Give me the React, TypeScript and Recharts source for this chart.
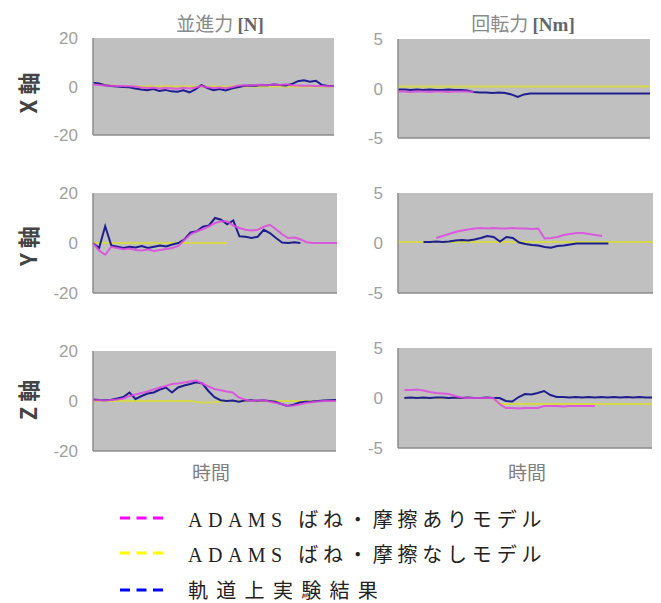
import React from "react";
import { LineChart, Line, XAxis, YAxis, CartesianGrid } from "recharts";

// time steps (x axis), same for all six panels
const steps = Array.from({ length: 41 }, (_, i) => i);

// X axis – translational force [N]
const fxMag = [0.8, 0.6, 0.4, 0.3, 0.2, 0.2, 0.1, 0, -0.4, -0.6, -0.5, -0.8, -0.6, -0.7, -0.9, -0.5, -0.8, -0.4, 0.2, -0.3, -0.6, -0.4, -0.7, -0.3, 0.3, 0.5, 0.4, 0.6, 0.7, 0.5, 0.8, 0.6, 0.9, 0.5, 0.4, 0.3, 0.3, 0.2, 0.2, 0.1, 0.1];
const fxYel = [1.2, 1.0, 0.7, 0.4, 0.2, 0.1, 0, 0, 0, 0, 0, 0, 0, 0, 0, 0, 0, 0, 0, 0, 0, 0, 0, 0, 0, 0, 0, 0, 0, 0, 0, 0, 0, 0, 0, 0, 0, 0, 0, 0, 0];
const fxBlu = [1.6, 1.2, 0.5, 0.2, 0, -0.2, -0.3, -0.8, -1.2, -1.5, -1.0, -1.8, -1.4, -2.0, -2.2, -1.6, -2.4, -1.2, 0.6, -0.6, -1.5, -1.0, -1.6, -0.8, -0.3, 0.2, 0.4, 0.3, 0.6, 0.5, 0.8, 0.6, 0.4, 1.0, 2.2, 2.6, 2.0, 2.4, 0.6, 0.2, 0.2];

// X axis – torque [Nm]
const mxMag = [-0.3, -0.3, -0.35, -0.3, -0.3, -0.35, -0.3, -0.3, -0.35, -0.3, -0.3, -0.3, -0.35, null, null, null, null, null, null, null, null, null, null, null, null, null, null, null, null, null, null, null, null, null, null, null, null, null, null, null, null];
const mxYel = [0.2, 0.2, 0.2, 0.2, 0.2, 0.2, 0.2, 0.2, 0.2, 0.2, 0.2, 0.2, 0.2, 0.2, 0.2, 0.2, 0.2, 0.2, 0.2, 0.2, 0.2, 0.2, 0.2, 0.2, 0.2, 0.2, 0.2, 0.2, 0.2, 0.2, 0.2, 0.2, 0.2, 0.2, 0.2, 0.2, 0.2, 0.2, 0.2, 0.2, 0.2];
const mxBlu = [-0.1, -0.1, -0.15, -0.1, -0.15, -0.1, -0.15, -0.15, -0.1, -0.15, -0.15, -0.2, -0.35, -0.4, -0.4, -0.45, -0.4, -0.45, -0.6, -0.85, -0.6, -0.5, -0.5, -0.5, -0.5, -0.5, -0.5, -0.5, -0.5, -0.5, -0.5, -0.5, -0.5, -0.5, -0.5, -0.5, -0.5, -0.5, -0.5, -0.5, -0.5];

// Y axis – translational force [N]
const fyMag = [0, -3, -4.7, -1.5, -2, -2.5, -2.2, -2.8, -3, -2.6, -3.2, -2.8, -2.4, -2, -1.2, 1.3, 3.5, 4.7, 5.5, 6.7, 8.0, 8.7, 8.7, 7.0, 6.0, 5.3, 5.0, 5.3, 6.5, 7.3, 5.5, 3.5, 2.0, 2.2, 1.5, 0.3, 0, 0, 0, 0, 0];
const fyYel = [0, 0, 0, 0, 0, 0, 0, 0, 0, 0, 0, 0, 0, 0, 0, 0, 0, 0, 0, 0, 0, 0, 0, null, null, null, null, null, null, null, null, null, null, null, null, null, null, null, null, null, null];
const fyBlu = [0, -2, 6.7, -1, -1.5, -2, -1.5, -1.8, -1.2, -2, -1.5, -1.0, -1.4, -0.6, 0, 1.5, 4.2, 4.7, 6.5, 7.0, 10.0, 9.3, 7.5, 9.0, 2.7, 2.5, 2.0, 2.5, 5.3, 4.0, 2.0, 0.2, 0, 0.3, 0, null, null, null, null, null, null];

// Y axis – torque [Nm]
const myMag = [null, null, null, null, null, null, 0.5, 0.7, 0.9, 1.1, 1.25, 1.35, 1.45, 1.5, 1.45, 1.5, 1.45, 1.45, 1.5, 1.45, 1.45, 1.4, 1.45, 0.45, 0.5, 0.6, 0.8, 0.9, 1.0, 1.0, 0.9, 0.8, 0.7, null, null, null, null, null, null, null, null];
const myYel = [0.1, 0.1, 0.1, 0.1, 0.1, 0.1, 0.1, 0.1, 0.1, 0.1, 0.1, 0.1, 0.1, 0.1, 0.1, 0.1, 0.1, 0.1, 0.1, 0.1, 0.1, 0.1, 0.1, 0.1, 0.1, 0.1, 0.1, 0.1, 0.1, 0.1, 0.1, 0.1, 0.1, 0.1, 0.1, 0.1, 0.1, 0.1, 0.1, 0.1, 0.1];
const myBlu = [null, null, null, null, 0.1, 0.1, 0.15, 0.1, 0.15, 0.25, 0.3, 0.25, 0.35, 0.5, 0.7, 0.6, 0.15, 0.6, 0.5, 0.05, -0.1, -0.2, -0.25, -0.4, -0.47, -0.3, -0.25, -0.15, -0.05, -0.05, -0.05, -0.05, -0.05, -0.05, null, null, null, null, null, null, null];

// Z axis – translational force [N]
const fzMag = [0.3, 0.3, 0.2, 0.4, 0.6, 1.0, 2.0, 2.6, 3.2, 3.8, 4.6, 5.4, 6.0, 6.8, 7.0, 7.4, 7.8, 8.2, 7.0, 5.8, 4.8, 4.3, 3.8, 3.4, 1.4, 0.6, 0, 0.2, 0.3, -0.2, -0.7, -1.2, -2, -1.8, -1.4, -0.8, -0.5, -0.2, 0, 0, 0];
const fzYel = [0, 0, 0, 0, 0, 0, 0, 0, 0, 0, 0, 0, 0, 0, 0, 0, 0, -0.4, -0.6, -0.6, -0.5, -0.3, 0, 0, 0, 0, 0, 0, 0, 0, 0, 0, 0, 0, 0, 0, 0, 0, 0, 0, 0];
const fzBlu = [0.6, 0.4, 0.3, 0.5, 1.0, 1.6, 3.4, 0.8, 2.0, 3.0, 3.4, 4.6, 5.4, 3.4, 5.4, 6.2, 6.8, 7.5, 7.0, 4.0, 1.5, 0.3, 0, 0.2, -0.3, 0.2, 0.3, 0.1, 0.3, 0, -0.3, -1.2, -2, -1.5, -0.6, -0.3, -0.2, 0, 0.2, 0.3, 0.4];

// Z axis – torque [Nm]
const mzMag = [null, 0.8, 0.8, 0.85, 0.75, 0.6, 0.5, 0.45, 0.4, 0.2, 0.05, 0, 0, 0, 0, 0, -0.6, -1.0, -1.0, -1.05, -1.0, -1.0, -1.0, -0.8, -0.8, -0.8, -0.85, -0.8, -0.8, -0.8, -0.8, -0.8, null, null, null, null, null, null, null, null, null];
const mzYel = [null, 0, 0, 0, 0, 0, 0, 0, 0, 0, 0, 0, 0, 0, 0, 0, -0.6, -0.6, -0.6, -0.6, -0.6, -0.6, -0.6, -0.6, -0.6, -0.6, -0.6, -0.6, -0.6, -0.6, -0.6, -0.6, -0.6, -0.6, -0.6, -0.6, -0.6, -0.6, -0.6, -0.6, -0.6];
const mzBlu = [null, 0, 0.05, 0, 0.05, 0, 0.05, 0.05, 0, 0.05, 0, 0.05, 0, 0, 0.05, 0, 0, -0.3, -0.35, 0.1, 0.4, 0.35, 0.5, 0.7, 0.3, 0.1, 0.1, 0.05, 0.1, 0.05, 0.1, 0.05, 0.1, 0.05, 0.1, 0.05, 0.1, 0.05, 0.1, 0.05, 0.05];

const forceTicks = [-20, 0, 20];
const torqueTicks = [-5, 0, 5];

const columnTitles = ["並進力", "回転力"];
const columnUnits = ["[N]", "[Nm]"];
const rowLabels = ["X 軸", "Y 軸", "Z 軸"];
const timeLabel = "時間";

const legendNames = [
  "ADAMS ばね・摩擦ありモデル",
  "ADAMS ばね・摩擦なしモデル",
  "軌道上実験結果",
];
const legendColors = ["#ff00ff", "#ffff00", "#0000ff"];

const MAG = "#dd48e0";
const YEL = "#d4d84a";
const BLU = "#1e1e8e";

const build = (m: (number | null)[], y: (number | null)[], b: (number | null)[]) =>
  steps.map((t, i) => ({ t, mag: m[i], yel: y[i], blu: b[i] }));

const Y_W = 60;
const TOP = 12;
const BOT = 14;
const RIGHT = 5;

function Panel(props: {
  left: number;
  top: number;
  w: number;
  h: number;
  data: any[];
  ticks: number[];
}) {
  const { left, top, w, h, data, ticks } = props;
  return (
    <div style={{ position: "absolute", left: left - Y_W, top: top - TOP }}>
      <LineChart
        width={Y_W + w + RIGHT}
        height={h + 1 + TOP + BOT}
        data={data}
        margin={{ top: TOP, right: RIGHT, bottom: BOT, left: 0 }}
      >
        <CartesianGrid fill="#c0c0c0" horizontal={false} vertical={false} />
        <XAxis
          dataKey="t"
          type="number"
          domain={[0, 40]}
          tick={false}
          tickLine={false}
          height={1}
          axisLine={{ stroke: "#8c8c8c", strokeWidth: 1.5 }}
        />
        <YAxis
          domain={[ticks[0], ticks[2]]}
          ticks={ticks}
          interval={0}
          width={Y_W}
          tickSize={0}
          tickMargin={15}
          axisLine={{ stroke: "#8c8c8c", strokeWidth: 1.5 }}
          tick={{ fill: "#a0a0a0", fontSize: 17, fontFamily: "Liberation Sans, Arial" }}
        />
        <Line dataKey="yel" stroke={YEL} strokeWidth={2} dot={false} isAnimationActive={false} />
        <Line dataKey="blu" stroke={BLU} strokeWidth={2} dot={false} isAnimationActive={false} />
        <Line dataKey="mag" stroke={MAG} strokeWidth={2} dot={false} strokeOpacity={0.85} isAnimationActive={false} />
      </LineChart>
    </div>
  );
}

const cjk = "'Noto Sans CJK JP', 'Noto Sans', sans-serif";

export default function App() {
  return (
    <div
      style={{
        position: "absolute",
        left: 0,
        top: 0,
        width: 661,
        height: 603,
        background: "#fff",
        overflow: "hidden",
      }}
    >
      <Panel left={93} top={38} w={241} h={97} data={build(fxMag, fxYel, fxBlu)} ticks={forceTicks} />
      <Panel left={398} top={39} w={252} h={99} data={build(mxMag, mxYel, mxBlu)} ticks={torqueTicks} />
      <Panel left={93} top={193} w={244} h={100} data={build(fyMag, fyYel, fyBlu)} ticks={forceTicks} />
      <Panel left={398} top={193} w={255} h={100} data={build(myMag, myYel, myBlu)} ticks={torqueTicks} />
      <Panel left={93} top={351} w={243} h={100} data={build(fzMag, fzYel, fzBlu)} ticks={forceTicks} />
      <Panel left={398} top={348} w={254} h={100} data={build(mzMag, mzYel, mzBlu)} ticks={torqueTicks} />

      {/* column titles */}
      {[220, 523].map((cx, i) => (
        <div
          key={"ct" + i}
          style={{
            position: "absolute",
            left: cx,
            top: 23,
            transform: "translate(-50%, -50%)",
            whiteSpace: "nowrap",
            fontSize: 19,
            lineHeight: 1,
          }}
        >
          <span style={{ fontFamily: cjk, color: "#8a8a8a" }}>{columnTitles[i]} </span>
          <span style={{ fontFamily: "'Liberation Serif', serif", fontWeight: "bold", color: "#666" }}>
            {columnUnits[i]}
          </span>
        </div>
      ))}

      {/* row labels */}
      {[93, 246, 400].map((cy, i) => (
        <div
          key={"rl" + i}
          style={{
            position: "absolute",
            left: 27,
            top: cy,
            transform: "translate(-50%, -50%) rotate(-90deg)",
            whiteSpace: "nowrap",
            fontSize: 22,
            fontWeight: "bold",
            fontFamily: cjk,
            color: "#444",
            lineHeight: 1,
          }}
        >
          {rowLabels[i]}
        </div>
      ))}

      {/* time labels */}
      {[211, 527].map((cx, i) => (
        <div
          key={"tl" + i}
          style={{
            position: "absolute",
            left: cx,
            top: 471,
            transform: "translate(-50%, -50%)",
            fontSize: 19,
            fontFamily: cjk,
            color: "#808080",
            lineHeight: 1,
          }}
        >
          {timeLabel}
        </div>
      ))}

      {/* legend */}
      <svg style={{ position: "absolute", left: 0, top: 0 }} width={661} height={603}>
        {[518, 553, 590].map((y, i) => (
          <line
            key={"ll" + i}
            x1={120}
            x2={164}
            y1={y}
            y2={y}
            stroke={legendColors[i]}
            strokeWidth={3}
            strokeDasharray="10 6.5"
          />
        ))}
      </svg>
      {[520, 555, 591].map((cy, i) => {
        const name = legendNames[i];
        const latin = name.startsWith("ADAMS");
        return (
          <div
            key={"lt" + i}
            style={{
              position: "absolute",
              left: 188,
              top: cy,
              transform: "translateY(-50%)",
              whiteSpace: "nowrap",
              fontSize: 20,
              lineHeight: 1,
              color: "#222",
              fontFamily: "'Liberation Serif', " + cjk,
            }}
          >
            {latin ? (
              <>
                <span style={{ letterSpacing: 5.5 }}>ADAMS </span>
                <span style={{ letterSpacing: 4.8 }}>{name.slice(6)}</span>
              </>
            ) : (
              <span style={{ letterSpacing: 8.3 }}>{name}</span>
            )}
          </div>
        );
      })}
    </div>
  );
}
